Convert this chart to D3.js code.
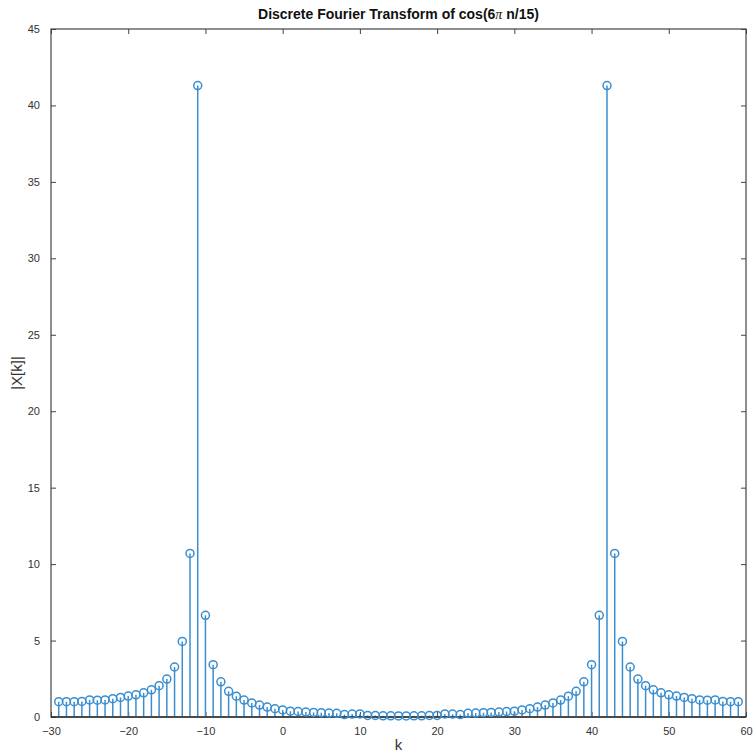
<!DOCTYPE html>
<html>
<head>
<meta charset="utf-8">
<script src="https://cdn.jsdelivr.net/npm/d3@7"></script>
<style>
  body { margin: 0; background: #fff; }
  text { font-family: "Liberation Sans", Arial, sans-serif; }
</style>
</head>
<body>
<svg id="chart"></svg>
<script>
// stem plot of |X[k]|
const kValues = d3.range(-29, 60);
const magnitudes = [
  1.00, 1.00, 1.00, 1.02, 1.12, 1.10, 1.12, 1.20, 1.28, 1.37,   // -29..-20
  1.45, 1.58, 1.78, 2.05, 2.48, 3.27, 4.94, 10.7, 41.3, 6.65,   // -19..-10
  3.42, 2.30, 1.68, 1.36, 1.11, 0.92, 0.78, 0.65, 0.54, 0.46,   // -9..0
  0.38, 0.36, 0.32, 0.30, 0.28, 0.26, 0.24, 0.16, 0.19, 0.20,   // 1..10
  0.10, 0.10, 0.08, 0.08, 0.07, 0.07, 0.08, 0.08, 0.10, 0.10,   // 11..20
  0.20, 0.19, 0.16, 0.24, 0.26, 0.28, 0.30, 0.32, 0.36, 0.38,   // 21..30
  0.46, 0.54, 0.65, 0.78, 0.92, 1.11, 1.36, 1.68, 2.30, 3.42,   // 31..40
  6.65, 41.3, 10.7, 4.94, 3.27, 2.48, 2.05, 1.78, 1.58, 1.45,   // 41..50
  1.37, 1.28, 1.20, 1.12, 1.10, 1.12, 1.02, 1.00, 1.00          // 51..59
];
const xTicks = [-30, -20, -10, 0, 10, 20, 30, 40, 50, 60];
const yTicks = [0, 5, 10, 15, 20, 25, 30, 35, 40, 45];

const W = 754, H = 754;
const margin = {top: 29, right: 8, bottom: 37, left: 51};
const width = W - margin.left - margin.right,
      height = H - margin.top - margin.bottom;

const svg = d3.select("#chart").attr("width", W).attr("height", H);
const g = svg.append("g").attr("transform", `translate(${margin.left},${margin.top})`);

const x = d3.scaleLinear().domain([-30, 60]).range([0, width]);
const y = d3.scaleLinear().domain([0, 45]).range([height, 0]);

const axisCol = "#444";
const stemCol = "#3a8ed0";

// axes (box with inward ticks on all four sides)
const styleAxis = sel => {
  sel.select(".domain").remove();
  sel.selectAll(".tick line").attr("stroke", axisCol);
  sel.selectAll(".tick text").attr("fill", "#333").style("font-size", "11px");
};
g.append("g").attr("transform", `translate(0,${height})`)
  .call(d3.axisBottom(x).tickValues(xTicks).tickSizeInner(-5).tickSizeOuter(0).tickPadding(10))
  .call(styleAxis);
g.append("g")
  .call(d3.axisTop(x).tickValues(xTicks).tickSizeInner(-5).tickSizeOuter(0).tickFormat(""))
  .call(styleAxis);
g.append("g")
  .call(d3.axisLeft(y).tickValues(yTicks).tickSizeInner(-5).tickSizeOuter(0).tickPadding(11))
  .call(styleAxis);
g.append("g").attr("transform", `translate(${width},0)`)
  .call(d3.axisRight(y).tickValues(yTicks).tickSizeInner(-5).tickSizeOuter(0).tickFormat(""))
  .call(styleAxis);

g.append("rect").attr("width", width).attr("height", height)
  .attr("fill", "none").attr("stroke", axisCol).attr("stroke-width", 1.2);

const data = kValues.map((k, i) => ({k, v: magnitudes[i]}));

// stems
g.selectAll("line.stem").data(data).enter().append("line")
  .attr("class", "stem")
  .attr("x1", d => x(d.k)).attr("x2", d => x(d.k))
  .attr("y1", y(0)).attr("y2", d => y(d.v))
  .attr("stroke", stemCol).attr("stroke-width", 1.5);

// baseline
g.append("line").attr("x1", 0).attr("x2", width)
  .attr("y1", y(0)).attr("y2", y(0))
  .attr("stroke", "#333").attr("stroke-width", 1.5);

// markers
g.selectAll("circle").data(data).enter().append("circle")
  .attr("cx", d => x(d.k)).attr("cy", d => y(d.v))
  .attr("r", 4)
  .attr("fill", "none").attr("stroke", stemCol).attr("stroke-width", 1.5);

// labels
const title = svg.append("text").attr("x", margin.left + width / 2).attr("y", 19)
  .attr("text-anchor", "middle").style("font-size", "14px").style("font-weight", "bold")
  .attr("fill", "#111");
title.append("tspan").text("Discrete Fourier Transform of cos(6");
title.append("tspan").style("font-family", "'Liberation Serif', 'DejaVu Serif', serif")
  .style("font-weight", "normal").style("font-style", "italic").text("π");
title.append("tspan").text(" n/15)");

svg.append("text").attr("x", margin.left + width / 2).attr("y", 750)
  .attr("text-anchor", "middle").style("font-size", "15px").attr("fill", "#333").text("k");

svg.append("text").attr("transform", `translate(22,${margin.top + height / 2}) rotate(-90)`)
  .attr("text-anchor", "middle").style("font-size", "15px").attr("fill", "#333").text("|X[k]|");
</script>
</body>
</html>
